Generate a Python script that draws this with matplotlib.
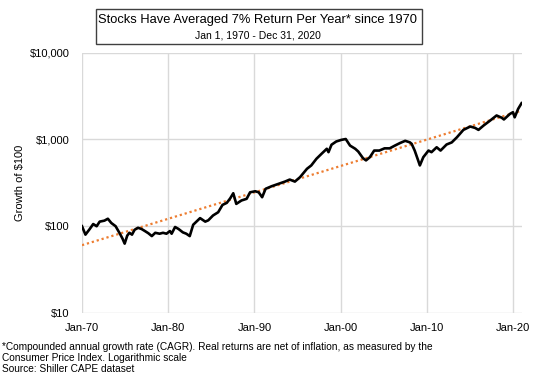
"""Growth of $100 in stocks since 1970, log scale with 7% trend line."""

import matplotlib
matplotlib.use('Agg')
import matplotlib.pyplot as plt
from matplotlib.patches import Rectangle
from matplotlib.ticker import FixedLocator, FuncFormatter, NullLocator

plt.rcParams['font.family'] = ['Liberation Sans', 'DejaVu Sans']

# Real total return, growth of $100
years = [1970.0, 1970.4, 1970.9, 1971.3, 1971.7, 1972.05, 1972.6, 1973.0, 1973.4, 1973.9,
         1974.4, 1974.7, 1974.95, 1975.25, 1975.5, 1975.8, 1976.1, 1976.5, 1976.9, 1977.3,
         1977.7, 1978.1, 1978.5, 1979.0, 1979.4, 1979.8, 1980.2, 1980.4, 1980.8, 1981.2,
         1981.7, 1982.1, 1982.5, 1982.9, 1983.7, 1984.3, 1984.65, 1985.2, 1985.8, 1986.3,
         1986.8, 1987.2, 1987.55, 1987.9, 1988.5, 1989.1, 1989.5, 1990.1, 1990.5, 1990.9,
         1991.3, 1992.0, 1992.8, 1993.55, 1994.1, 1994.7, 1995.3, 1996.1, 1996.6, 1997.2,
         1997.8, 1998.4, 1998.6, 1998.95, 1999.5, 2000.1, 2000.6, 2001.1, 2001.7, 2002.05,
         2002.6, 2002.95, 2003.4, 2003.9, 2004.5, 2005.1, 2005.7, 2006.3, 2006.9, 2007.5,
         2008.05, 2008.25, 2008.6, 2009.0, 2009.2, 2009.6, 2010.2, 2010.55, 2011.15, 2011.6,
         2012.3, 2012.9, 2013.5, 2014.25, 2015.05, 2015.6, 2016.0, 2016.6, 2017.35, 2018.1,
         2018.7, 2018.95, 2019.65, 2020.0, 2020.2, 2020.6, 2021.0]
values = [100, 80, 93, 106, 100, 113, 116, 122, 109, 100,
          82, 72, 63, 78, 84, 80, 91, 96, 93, 88,
          83, 77, 84, 82, 84, 82, 88, 82, 98, 93,
          85, 82, 77, 104, 124, 113, 117, 133, 145, 176,
          186, 210, 240, 181, 198, 207, 246, 253, 246, 216,
          270, 289, 308, 327, 345, 327, 368, 459, 502, 599,
          685, 781, 714, 870, 948, 990, 1012, 850, 781, 726,
          609, 574, 625, 745, 745, 790, 790, 850, 910, 965,
          925, 890, 745, 574, 502, 625, 745, 714, 813, 745,
          875, 925, 1060, 1290, 1410, 1360, 1290, 1450, 1650, 1890,
          1780, 1700, 1970, 2060, 1800, 2250, 2620]

# 7% CAGR trend line endpoints
trend_years = [1970.0, 2021.0]
trend_values = [60.5, 2150]

tick_years = [1970, 1980, 1990, 2000, 2010, 2020]
tick_labels = ['Jan-70', 'Jan-80', 'Jan-90', 'Jan-00', 'Jan-10', 'Jan-20']
y_ticks = [10, 100, 1000, 10000]

fig = plt.figure(figsize=(5.4, 3.76), dpi=100)
ax = fig.add_axes([82 / 540, 1 - 313 / 376, 440 / 540, (313 - 52.7) / 376])

ax.plot(trend_years, trend_values, color='#ED7D31', linewidth=1.6,
        linestyle=(0, (1, 1.3)), zorder=2)
ax.plot(years, values, color='black', linewidth=1.9, zorder=3)

ax.set_yscale('log')
ax.set_ylim(10, 10000)
ax.set_xlim(1970, 2021.05)
ax.yaxis.set_major_locator(FixedLocator(y_ticks))
ax.yaxis.set_minor_locator(NullLocator())
ax.yaxis.set_major_formatter(FuncFormatter(lambda v, p: f'${v:,.0f}'))
ax.xaxis.set_major_locator(FixedLocator(tick_years))
ax.set_xticklabels(tick_labels)

ax.grid(True, color='#D9D9D9', linewidth=1.0)
ax.set_axisbelow(True)
for spine in ax.spines.values():
    spine.set_visible(False)
ax.tick_params(axis='both', length=0, labelsize=8, colors='black')
ax.tick_params(axis='x', pad=7)
ax.tick_params(axis='y', pad=9)

fig.text(20 / 540, 1 - 183 / 376, 'Growth of $100', rotation=90,
         ha='center', va='center', fontsize=8)

# Title box
fig.patches.append(Rectangle((96 / 540, 1 - 44 / 376), 326 / 540, 35 / 376,
                             transform=fig.transFigure, fill=False,
                             edgecolor='#404040', linewidth=1.0))
fig.text(258 / 540, 1 - 20.5 / 376, 'Stocks Have Averaged 7% Return Per Year* since 1970',
         ha='center', va='center', fontsize=9.3)
fig.text(258 / 540, 1 - 35 / 376, 'Jan 1, 1970 - Dec 31, 2020',
         ha='center', va='center', fontsize=7.5)

# Footnotes
fig.text(2 / 540, 1 - 347 / 376,
         '*Compounded annual growth rate (CAGR). Real returns are net of inflation, as measured by the',
         ha='left', va='center', fontsize=7.3)
fig.text(2 / 540, 1 - 358 / 376, 'Consumer Price Index. Logarithmic scale',
         ha='left', va='center', fontsize=7.3)
fig.text(2 / 540, 1 - 369 / 376, 'Source: Shiller CAPE dataset',
         ha='left', va='center', fontsize=7.3)

fig.savefig('out.png', dpi=100)
plt.close(fig)
